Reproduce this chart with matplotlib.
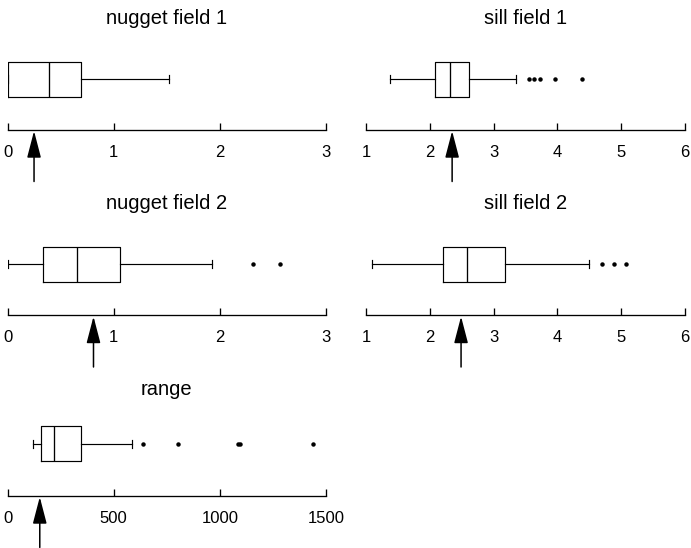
import matplotlib
matplotlib.use("Agg")
import matplotlib.pyplot as plt

plt.rcParams['font.family'] = ['Liberation Sans', 'DejaVu Sans']

# ---- data: box summaries (whisker low, Q1, median, Q3, whisker high), outliers, true value
titles = ["nugget field 1", "sill field 1", "nugget field 2", "sill field 2", "range"]

nugget1_box = [0.0, 0.0, 0.39, 0.69, 1.52]
nugget1_out = []
nugget1_true = 0.25

sill1_box = [1.37, 2.08, 2.31, 2.62, 3.35]
sill1_out = [3.55, 3.64, 3.73, 3.96, 4.38]
sill1_true = 2.35

nugget2_box = [0.0, 0.33, 0.65, 1.06, 1.93]
nugget2_out = [2.31, 2.57]
nugget2_true = 0.81

sill2_box = [1.10, 2.21, 2.58, 3.18, 4.50]
sill2_out = [4.70, 4.88, 5.08]
sill2_true = 2.49

range_box = [119, 158, 220, 344, 584]
range_out = [639, 803, 1084, 1096, 1437]
range_true = 152

nugget_ticks = [0, 1, 2, 3]
sill_ticks = [1, 2, 3, 4, 5, 6]
range_ticks = [0, 500, 1000, 1500]

panels = [
    (titles[0], nugget1_box, nugget1_out, nugget1_true, nugget_ticks),
    (titles[1], sill1_box, sill1_out, sill1_true, sill_ticks),
    (titles[2], nugget2_box, nugget2_out, nugget2_true, nugget_ticks),
    (titles[3], sill2_box, sill2_out, sill2_true, sill_ticks),
    (titles[4], range_box, range_out, range_true, range_ticks),
]

# ---- layout (pixels, measured from top-left of the figure)
W, H, DPI = 691, 548, 100
col_x = [(7.5, 326.0), (366.0, 685.0)]
row_axis_y = [129.5, 315.0, 495.5]
row_box_offset = [50.5, 51.0, 52.0]
row_title_base = [24.0, 209.0, 395.0]
AX_H = 75.0
BOX_W = 35.0
ARROW_TAIL = 52.0

fig = plt.figure(figsize=(W / DPI, H / DPI), dpi=DPI)

for i, (title, box, out, true_val, ticks) in enumerate(panels):
    row, col = divmod(i, 2)
    x0, x1 = col_x[col]
    y_axis = row_axis_y[row]
    ax = fig.add_axes([x0 / W, 1 - y_axis / H, (x1 - x0) / W, AX_H / H])
    ax.set_xlim(ticks[0], ticks[-1])
    ax.set_ylim(0, AX_H)

    stats = dict(whislo=box[0], q1=box[1], med=box[2], q3=box[3], whishi=box[4],
                 fliers=out)
    line = dict(color="black", linewidth=0.85)
    ax.bxp([stats], positions=[row_box_offset[row]], widths=BOX_W,
           orientation="horizontal", capwidths=8, manage_ticks=False,
           boxprops=line, whiskerprops=line, capprops=line,
           medianprops=dict(color="black", linewidth=0.95),
           flierprops=dict(marker="o", markersize=2.2, markerfacecolor="black",
                           markeredgecolor="black", linestyle="none"))

    for side in ("top", "left", "right"):
        ax.spines[side].set_visible(False)
    ax.spines["bottom"].set_linewidth(0.95)
    ax.set_yticks([])
    ax.set_xticks(ticks)
    ax.set_xticklabels([str(t) for t in ticks])
    ax.tick_params(axis="x", direction="in", length=4.8, width=0.95, pad=11,
                   labelsize=12)
    ax.set_facecolor("none")

    # arrow marking the true parameter value
    ax.annotate("", xy=(true_val, -1.5), xytext=(true_val, -ARROW_TAIL),
                arrowprops=dict(arrowstyle="-|>,head_length=16.5,head_width=4.3",
                                color="black", lw=1.1, shrinkA=0, shrinkB=0,
                                mutation_scale=1),
                annotation_clip=False)

    pad_pts = (y_axis - AX_H - row_title_base[row]) * 72 / DPI
    ax.set_title(title, fontsize=14.5, pad=pad_pts)

fig.savefig("out.png", dpi=DPI)
